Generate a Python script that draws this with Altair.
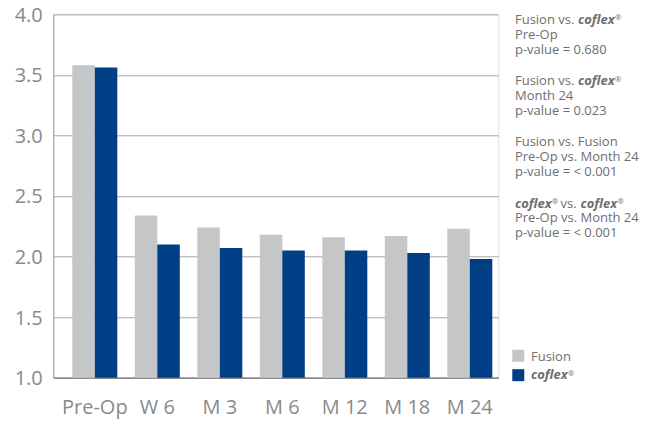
import altair as alt
import pandas as pd

# ---------------- data ----------------
categories = ["Pre-Op", "W 6", "M 3", "M 6", "M 12", "M 18", "M 24"]
fusion = [3.58, 2.34, 2.24, 2.18, 2.16, 2.17, 2.23]
coflex = [3.56, 2.10, 2.07, 2.05, 2.05, 2.03, 1.98]
series = ["Fusion", "coflex"]
colors = ["#c5c6c8", "#003f85"]
y_ticks = [1.0, 1.5, 2.0, 2.5, 3.0, 3.5, 4.0]

# annotation text: groups of lines, each line a list of (text, kind)
# kind: n = normal, b = bold italic brand name, s = superscript mark
ann_groups = [
    [[("Fusion vs. ", "n"), ("coflex", "b"), ("®", "s")],
     [("Pre-Op", "n")],
     [("p-value = 0.680", "n")]],
    [[("Fusion vs. ", "n"), ("coflex", "b"), ("®", "s")],
     [("Month 24", "n")],
     [("p-value = 0.023", "n")]],
    [[("Fusion vs. Fusion", "n")],
     [("Pre-Op vs. Month 24", "n")],
     [("p-value = < 0.001", "n")]],
    [[("coflex", "b"), ("®", "s"), ("vs.", "n"), ("coflex", "b"), ("®", "s")],
     [("Pre-Op vs. Month 24", "n")],
     [("p-value = < 0.001", "n")]],
]
legend_labels = [[("Fusion", "n")], [("coflex", "b"), ("®", "s")]]

# ---------------- layout constants ----------------
FONT = "Open Sans"
OX, OY = 53.3, 14.3          # plot origin in page pixels
W, H = 445, 363.4
ANN_COLOR = "#6d6e71"
LABEL_COLOR = "#8a8a8a"
seg_width = {"Fusion vs. ": 63, "coflex": 37, "®": 8.5, "vs.": 20}

rows = []
for c, f, k in zip(categories, fusion, coflex):
    rows.append({"cat": c, "series": "Fusion", "value": f})
    rows.append({"cat": c, "series": "coflex", "value": k})
bars_df = pd.DataFrame(rows)

color_scale = alt.Scale(domain=series, range=colors)

bars = alt.Chart(bars_df).mark_bar().encode(
    x=alt.X("cat:N", sort=categories, title=None,
            scale=alt.Scale(paddingInner=0.28, paddingOuter=0.2, align=0.76),
            axis=alt.Axis(labelAngle=0, ticks=False, labelFontSize=20, labelFont=FONT,
                          labelColor=LABEL_COLOR, labelPadding=20, domainColor="#8c8c8c",
                          domainWidth=1.5)),
    xOffset=alt.XOffset("series:N", sort=series,
                        scale=alt.Scale(paddingInner=0, paddingOuter=0)),
    y=alt.Y("value:Q", title=None, scale=alt.Scale(domain=[1, 4], nice=False, zero=False),
            axis=alt.Axis(values=y_ticks, format=".1f", ticks=False, labelFontSize=20,
                          labelFont=FONT, labelColor=LABEL_COLOR, labelPadding=11,
                          labelOffset=1, grid=True, gridColor="#a9a9a9", gridWidth=1,
                          domainColor="#a0a0a0")),
    y2=alt.datum(1.0),
    color=alt.Color("series:N", scale=color_scale, legend=None),
)

# ---------- annotation segments (pixel positions computed from layout) ----------
seg_rows = []
def add_line(segs, x0, base):
    x = x0
    for text, kind in segs:
        seg_rows.append({"text": text, "kind": kind, "px": x - OX,
                         "py": (base - 3.5 if kind == "s" else base) - OY})
        x += seg_width.get(text, 0)

for gi, group in enumerate(ann_groups):
    for li, line in enumerate(group):
        add_line(line, 515, 24 + gi * 61.2 + li * 14.8)
for li, line in enumerate(legend_labels):
    add_line(line, 531, 360.7 + li * 18.6)
seg_df = pd.DataFrame(seg_rows)

def text_layer(kind, **kw):
    return alt.Chart(seg_df).transform_filter(alt.datum.kind == kind).mark_text(
        align="left", baseline="alphabetic", font=FONT, color=ANN_COLOR, **kw
    ).encode(
        x=alt.X("px:Q", scale=None, axis=None),
        y=alt.Y("py:Q", scale=None, axis=None),
        text="text:N",
    )

t_norm = text_layer("n", fontSize=13)
t_bold = text_layer("b", fontSize=13, fontWeight="bold", fontStyle="italic")
t_sup = text_layer("s", fontSize=7.5)

legend_df = pd.DataFrame({"series": series,
                          "lx": [518.3 - OX, 518.3 - OX],
                          "ly": [355.8 - OY, 375.2 - OY]})
legend_sq = alt.Chart(legend_df).mark_square(size=144, opacity=1).encode(
    x=alt.X("lx:Q", scale=None, axis=None),
    y=alt.Y("ly:Q", scale=None, axis=None),
    color=alt.Color("series:N", scale=color_scale, legend=None),
)

chart = alt.layer(bars, t_norm, t_bold, t_sup, legend_sq).resolve_scale(
    x="independent", y="independent"
).properties(
    width=W, height=H,
    autosize=alt.AutoSizeParams(type="none"),
    padding={"left": OX - 8, "top": OY - 8, "right": 150, "bottom": 42},
).configure_view(stroke=None).configure(background="white")

chart.save("out.html", embed_options={"renderer": "svg", "actions": False})
